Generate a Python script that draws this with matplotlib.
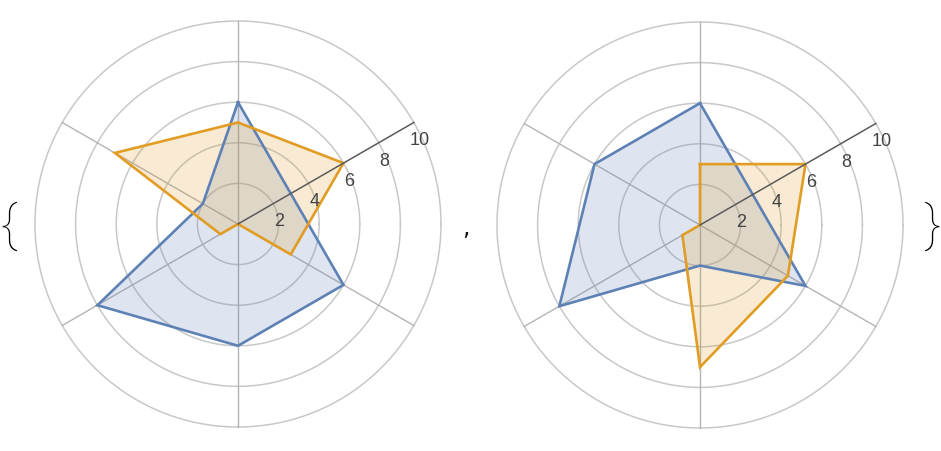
import numpy as np
import matplotlib
matplotlib.use("Agg")
import matplotlib.pyplot as plt

# Axes order: starting at the top (90 deg) and going counter-clockwise
angles_deg = [90, 150, 210, 270, 330, 30]
ring_values = [2, 4, 6, 8, 10]
tick_labels = ["2", "4", "6", "8", "10"]

left_blue = [6, 2, 8, 6, 6, 3]
left_orange = [5, 7, 1, 0, 3, 6]
right_blue = [6, 6, 8, 2, 6, 3]
right_orange = [3, 0, 1, 7, 5, 6]

BLUE = "#5E81B5"
ORANGE = "#E19C24"

W, H = 941, 452
fig = plt.figure(figsize=(W / 100, H / 100), dpi=100)

SCALE = 20.3  # px per unit
HALF = 11.0


def make_axes(cx, cy):
    size = 2 * HALF * SCALE
    left = (cx - HALF * SCALE) / W
    bottom = (H - cy - HALF * SCALE) / H
    ax = fig.add_axes([left, bottom, size / W, size / H])
    ax.set_xlim(-HALF, HALF)
    ax.set_ylim(-HALF, HALF)
    ax.axis("off")
    return ax


def radar(ax, series):
    th = np.deg2rad(angles_deg)
    t = np.linspace(0, 2 * np.pi, 400)
    for r in ring_values:
        ax.plot(r * np.cos(t), r * np.sin(t), color="#C8C8C8", lw=1.1, zorder=1)
    rmax = ring_values[-1]
    for a in th[:-1]:
        ax.plot([0, rmax * np.cos(a)], [0, rmax * np.sin(a)], color="#B4B4B4", lw=1.0, zorder=1)
    a = th[-1]
    ax.plot([0, rmax * np.cos(a)], [0, rmax * np.sin(a)], color="#5A5A5A", lw=1.1, zorder=4)
    for r, lab in zip(ring_values, tick_labels):
        ax.text(r * np.cos(a) + 0.3, r * np.sin(a) - 0.85, lab, ha="center", va="center",
                fontsize=13, color="#444444", family="Liberation Sans", zorder=5)
    for vals, col in series:
        v = np.array(vals, dtype=float)
        x = v * np.cos(th)
        y = v * np.sin(th)
        ax.fill(x, y, facecolor=col, alpha=0.2, edgecolor="none", zorder=2)
        ax.plot(np.append(x, x[0]), np.append(y, y[0]), color=col, lw=1.9, zorder=3,
                solid_joinstyle="miter")


ax1 = make_axes(238, 225)
radar(ax1, [(left_blue, BLUE), (left_orange, ORANGE)])
ax2 = make_axes(700, 226)
radar(ax2, [(right_blue, BLUE), (right_orange, ORANGE)])

brace_kw = dict(ha="center", va="center", fontsize=36, family="Roboto",
                fontweight="light", color="#000000")
fig.text(8 / W, 1 - 226 / H, "{", **brace_kw)
fig.text(932 / W, 1 - 226 / H, "}", **brace_kw)
fig.text(466 / W, 1 - 228 / H, ",", ha="center", va="center", fontsize=17,
         family="DejaVu Sans", fontweight="normal", color="#111111")

fig.savefig("out.png", dpi=100)
